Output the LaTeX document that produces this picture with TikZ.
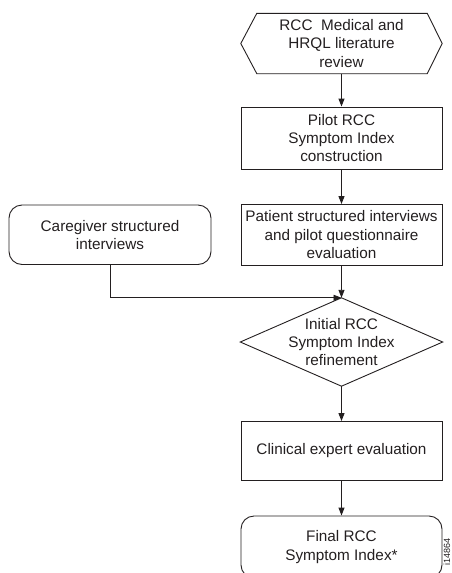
\documentclass[tikz,border=0pt]{standalone}
\usepackage{fontspec}
\setmainfont{Liberation Sans}
\usetikzlibrary{arrows.meta}
\definecolor{ink}{HTML}{231F20}
\tikzset{
  base/.style={draw=none, minimum width=201pt, inner sep=0pt, align=center,
    text=ink, font=\fontsize{15.3}{18.3}\selectfont},
  boxed/.style={base, draw=ink, line width=0.9pt},
  rounded/.style={boxed, rounded corners=13pt},
  outline/.style={draw=ink, line width=0.9pt, line join=miter},
  flow/.style={draw=ink, line width=0.9pt, -{Triangle[length=8pt,width=6pt]}},
}
\begin{document}
\begin{tikzpicture}[x=1pt,y=1pt]
\useasboundingbox (0,0) rectangle (452,-573);
\clip (0,0) rectangle (452,-573);
% nodes
\node[base, minimum height=60pt] (lit) at (341.5,-43.5) {RCC\ \ Medical and\\HRQL literature\\review};
\draw[outline] (lit.west) -- ([xshift=16pt]lit.north west) -- ([xshift=-15pt]lit.north east)
  -- (lit.east) -- ([xshift=-15pt]lit.south east) -- ([xshift=16pt]lit.south west) -- cycle;
\node[boxed, minimum height=62pt] (pilot) at (341.5,-138) {Pilot RCC\\Symptom Index\\construction};
\node[boxed, minimum height=60.5pt] (patient) at (341.5,-234.75) {Patient structured interviews\\and pilot questionnaire\\evaluation};
\node[rounded, minimum width=202pt, minimum height=59.5pt] (care) at (110,-234.75) {Caregiver structured\\interviews};
\node[base, minimum width=202pt, minimum height=88pt] (refine) at (341.5,-342) {Initial RCC\\Symptom Index\\refinement};
\draw[outline] (refine.west) -- (refine.north) -- (refine.east) -- (refine.south) -- cycle;
\node[boxed, minimum height=59pt] (clin) at (341.5,-451) {Clinical expert evaluation};
\node[rounded, minimum height=62pt] (final) at (341.5,-547) {Final RCC\\Symptom Index*};
\node[text=ink, font=\fontsize{9}{10}\selectfont, rotate=90, inner sep=0pt] (code) at (446.8,-552) {i14864};
% connectors
\draw[flow] (lit.south) -- (pilot.north);
\draw[flow] (pilot.south) -- (patient.north);
\draw[flow] (patient.south) -- (refine.north);
\draw[flow] (care.south) |- (refine.north);
\draw[flow] (refine.south) -- (clin.north);
\draw[flow] (clin.south) -- (final.north);
\end{tikzpicture}
\end{document}
